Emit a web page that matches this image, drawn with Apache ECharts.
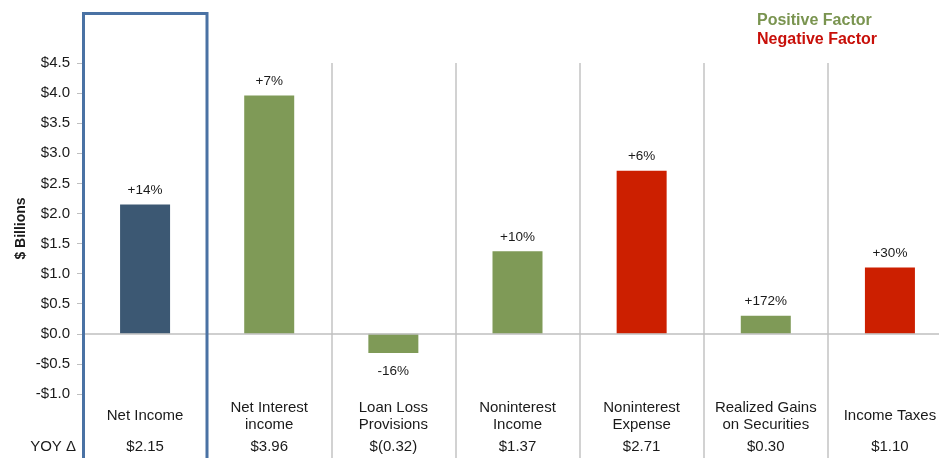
<!DOCTYPE html>
<html>
<head>
<meta charset="utf-8">
<script src="https://cdn.jsdelivr.net/npm/echarts@6/dist/echarts.min.js"></script>
<style>
html,body{margin:0;padding:0;background:#fff;}
#chart{width:939px;height:458px;}
</style>
</head>
<body>
<div id="chart"></div>
<script>
// ---- data ----
const categories = ['Net Income', 'Net Interest\nincome', 'Loan Loss\nProvisions', 'Noninterest\nIncome', 'Noninterest\nExpense', 'Realized Gains\non Securities', 'Income Taxes'];
const values = [2.15, 3.96, -0.32, 1.37, 2.71, 0.30, 1.10];
const yoyLabels = ['$2.15', '$3.96', '$(0.32)', '$1.37', '$2.71', '$0.30', '$1.10'];
const pctLabels = ['+14%', '+7%', '-16%', '+10%', '+6%', '+172%', '+30%'];
const factors = ['total', 'positive', 'positive', 'positive', 'negative', 'positive', 'negative'];
const yMin = -1.0, yMax = 4.5, yStep = 0.5;

// ---- styles ----
const FONT = "'Liberation Sans', Arial, sans-serif";
const colors = { total: '#3C5873', positive: '#7F9A57', negative: '#CC1F00' };
const GRID_LEFT = 83, GRID_WIDTH = 869, GRID_TOP = 63, GRID_BOTTOM = 64;

const chart = echarts.init(document.getElementById('chart'), null, { renderer: 'canvas' });

const barData = values.map((v, i) => ({
  value: v,
  itemStyle: { color: colors[factors[i]] },
  label: {
    show: true,
    position: v >= 0 ? 'top' : 'bottom',
    distance: v >= 0 ? 7 : 11,
    formatter: pctLabels[i]
  }
}));

const option = {
  animation: false,
  backgroundColor: '#ffffff',
  textStyle: { fontFamily: FONT },
  grid: [
    { left: GRID_LEFT, width: GRID_WIDTH, top: GRID_TOP, bottom: GRID_BOTTOM, containLabel: false, outerBoundsMode: 'none' },
    { left: GRID_LEFT, width: GRID_WIDTH, top: GRID_TOP, bottom: 0, containLabel: false, outerBoundsMode: 'none' }
  ],
  xAxis: [
    {
      type: 'category', gridIndex: 0, data: categories,
      axisLine: { show: false, onZero: false },
      axisTick: { show: false },
      splitLine: { show: false },
      axisLabel: {
        interval: 0, margin: 5, color: '#1a1a1a', fontFamily: FONT,
        verticalAlign: 'top', hideOverlap: false,
        formatter: function (val, idx) {
          const lines = val.split('\n');
          if (lines.length === 1) {
            return '{s|' + lines[0] + '}\n{v|' + yoyLabels[idx] + '}';
          }
          return '{n|' + lines[0] + '}\n{n|' + lines[1] + '}\n{v|' + yoyLabels[idx] + '}';
        },
        rich: {
          n: { fontSize: 15, lineHeight: 17, color: '#1a1a1a', fontFamily: FONT },
          s: { fontSize: 15, lineHeight: 34, color: '#1a1a1a', fontFamily: FONT },
          v: { fontSize: 15, lineHeight: 28, color: '#1a1a1a', fontFamily: FONT }
        }
      }
    },
    {
      type: 'category', gridIndex: 1, data: categories,
      axisLine: { show: false }, axisTick: { show: false }, axisLabel: { show: false },
      splitLine: { show: true, lineStyle: { color: '#c3c3c3', width: 1.5 } }
    }
  ],
  yAxis: [
    {
      type: 'value', gridIndex: 0, min: yMin, max: yMax, interval: yStep,
      name: '$ Billions', nameLocation: 'middle', nameGap: 55, nameMoveOverlap: false,
      nameTextStyle: { fontSize: 14, fontWeight: 'bold', color: '#1a1a1a', fontFamily: FONT },
      axisLine: { show: false },
      axisTick: { show: true, length: 6, lineStyle: { color: '#bfbfbf', width: 1 } },
      splitLine: { show: false },
      axisLabel: {
        margin: 13, fontSize: 15, color: '#1a1a1a', fontFamily: FONT,
        formatter: function (v) { return (v < 0 ? '-$' : '$') + Math.abs(v).toFixed(1); }
      }
    },
    {
      type: 'value', gridIndex: 1, min: 0, max: 1, show: false
    }
  ],
  series: [
    {
      type: 'bar', xAxisIndex: 0, yAxisIndex: 0,
      data: barData, barWidth: 50,
      label: { fontSize: 13.5, color: '#1a1a1a', fontFamily: FONT },
      markLine: {
        silent: true, symbol: 'none', label: { show: false },
        lineStyle: { color: '#bfbfbf', width: 1.5, type: 'solid' },
        data: [{ yAxis: 0 }]
      }
    }
  ],
  graphic: [
    {
      type: 'rect', z: 100,
      shape: { x: 83.5, y: 13.5, width: 123.5, height: 470 },
      style: { fill: null, stroke: '#4A72A4', lineWidth: 3 }
    },
    {
      type: 'text', left: 757, top: 13,
      style: { text: 'Positive Factor', font: "bold 16px 'Liberation Sans', Arial, sans-serif", fill: '#7A9450' }
    },
    {
      type: 'text', left: 757, top: 32,
      style: { text: 'Negative Factor', font: "bold 16px 'Liberation Sans', Arial, sans-serif", fill: '#C8100A' }
    },
    {
      type: 'text', right: 939 - 76, top: 439,
      style: { text: 'YOY Δ', font: "15px 'Liberation Sans', Arial, sans-serif", fill: '#1a1a1a' }
    }
  ]
};

chart.setOption(option);
</script>
</body>
</html>
